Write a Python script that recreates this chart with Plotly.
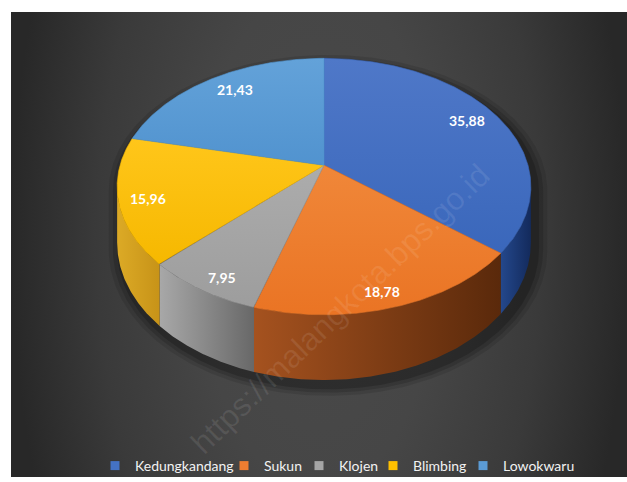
import numpy as np
import plotly.graph_objects as go

# ---------------- data ----------------
categories = ["Kedungkandang", "Sukun", "Klojen", "Blimbing", "Lowokwaru"]
values = [35.88, 18.78, 7.95, 15.96, 21.43]
value_labels = ["35,88", "18,78", "7,95", "15,96", "21,43"]

# ---------------- style ----------------
top_light = ["#4f78c8", "#f08739", "#acacac", "#ffc61a", "#63a2d9"]
top_dark = ["#3a67bb", "#ea7424", "#9d9d9d", "#f6b800", "#5193cf"]
legend_colors = ["#4472c4", "#ed7d31", "#a5a5a5", "#ffc000", "#5b9bd5"]
side_left = ["#24488c", "#a5521f", "#a8a8a8", "#dcaa26", "#3f78b0"]
side_right = ["#132a5c", "#5a290b", "#686868", "#c79318", "#2c5a88"]
legend_widths = [84, 30, 29, 45, 78]
FONT = "Lato, Open Sans, sans-serif"

W, H = 627, 482
PX0, PY0 = 11, 12       # top-left corner of the dark panel
CX, CY = 324.0, 167.0   # pie apex on screen
RX, RY = 204.0, 126.0   # radii of the top face
P = 0.166               # perspective strength
DEPTH = 55.0            # thickness of the disc


def proj(phi, f=1.0, z=0.0):
    phi = np.asarray(phi, dtype=float)
    u = f * np.sin(phi)
    v = f * np.cos(phi)
    d = 1 + P * v
    return CX + RX * u / d, CY + (-RY * v + z) / d


vals = np.array(values, dtype=float)
frac = vals / vals.sum()
ends = np.cumsum(frac) * 2 * np.pi
starts = ends - frac * 2 * np.pi

fig = go.Figure()

# background panel with radial gradient (tall ellipse -> mostly left/right falloff)
fig.add_trace(go.Scatter(
    x=[PX0, W, W, PX0, PX0], y=[-400, -400, 880, 880, -400], mode="lines",
    fill="toself", line=dict(width=0), hoverinfo="skip", showlegend=False,
    fillgradient=dict(type="radial",
                      colorscale=[[0, "#4a4a4a"], [0.4, "#464646"], [0.72, "#3a3a3a"],
                                  [1, "#282828"]]),
))

# soft shadow below the disc
phi_a = np.arccos(-P)
phi_b = 2 * np.pi - phi_a
back = np.linspace(phi_b, phi_a + 2 * np.pi, 200)
front = np.linspace(phi_a, phi_b, 200)
for grow, op in [(1.06, 0.10), (1.04, 0.14), (1.02, 0.18)]:
    tx, ty = proj(back)
    bx, by = proj(front, z=DEPTH)
    sx = np.concatenate([tx, bx, tx[:1]])
    sy = np.concatenate([ty, by, ty[:1]])
    mx, my = sx.mean(), sy.mean()
    sx = mx + (sx - mx) * grow + 4
    sy = my + (sy - my) * grow + 6
    fig.add_trace(go.Scatter(x=sx, y=sy, mode="lines", fill="toself",
                             fillcolor=f"rgba(0,0,0,{op})", line=dict(width=0),
                             hoverinfo="skip", showlegend=False))

# side faces (only the front part of the disc is visible)
for i in range(len(values)):
    lo = max(starts[i], phi_a)
    hi = min(ends[i], phi_b)
    if hi <= lo:
        continue
    ph = np.linspace(lo, hi, 120)
    tx, ty = proj(ph)
    bx, by = proj(ph[::-1], z=DEPTH)
    xs = np.concatenate([tx, bx, tx[:1]])
    ys = np.concatenate([ty, by, ty[:1]])
    fig.add_trace(go.Scatter(
        x=xs, y=ys, mode="lines", fill="toself", line=dict(width=0),
        hoverinfo="skip", showlegend=False,
        fillgradient=dict(type="horizontal", start=float(xs.min()), stop=float(xs.max()),
                          colorscale=[[0, side_left[i]], [1, side_right[i]]]),
    ))

# top faces
for i in range(len(values)):
    ph = np.linspace(starts[i], ends[i], 240)
    rx_, ry_ = proj(ph)
    xs = np.concatenate([[CX], rx_, [CX]])
    ys = np.concatenate([[CY], ry_, [CY]])
    fig.add_trace(go.Scatter(
        x=xs, y=ys, mode="lines", fill="toself",
        line=dict(width=0.6, color=top_dark[i]),
        hoverinfo="skip", showlegend=False,
        fillgradient=dict(type="vertical", start=float(ys.min()), stop=float(ys.max()),
                          colorscale=[[0, top_light[i]], [1, top_dark[i]]]),
    ))

# legend entries
for i, name in enumerate(categories):
    fig.add_trace(go.Scatter(
        x=[None], y=[None], mode="markers", name=name,
        marker=dict(symbol="square", size=9, color=legend_colors[i]),
        legendwidth=legend_widths[i], showlegend=True,
    ))

# value labels placed inside the end of every slice
annotations = []
for i, txt in enumerate(value_labels):
    mid = (starts[i] + ends[i]) / 2
    px, py = proj(mid)
    dx, dy = px - CX, py - CY
    n = np.hypot(dx, dy)
    lx = px - dx / n * 30
    ly = py - dy / n * 17
    annotations.append(dict(
        x=float(lx), y=float(ly), xref="x", yref="y", text=txt, showarrow=False,
        font=dict(family=FONT, size=14, color="white", weight="bold"),
    ))

# faint watermark
annotations.append(dict(
    x=340, y=312, xref="x", yref="y", text="https://malangkota.bps.go.id",
    showarrow=False, textangle=-44,
    font=dict(family="Liberation Sans, Arial, sans-serif", size=32,
              color="rgba(255,255,255,0.09)"),
))

fig.update_layout(
    width=W, height=H,
    margin=dict(l=0, r=0, t=0, b=0),
    paper_bgcolor="white", plot_bgcolor="white",
    xaxis=dict(range=[0, W], visible=False, fixedrange=True),
    yaxis=dict(range=[H, 0], visible=False, fixedrange=True),
    showlegend=True,
    legend=dict(orientation="h", x=95 / W, xanchor="left", y=(H - 471) / H,
                yanchor="middle", bgcolor="rgba(0,0,0,0)",
                font=dict(family=FONT, size=14, color="#f2f2f2"),
                itemwidth=30, tracegroupgap=0),
    annotations=annotations,
    shapes=[
        dict(type="rect", xref="x", yref="y", x0=0, x1=W, y0=0, y1=PY0,
             fillcolor="white", line=dict(width=0), layer="above"),
        dict(type="rect", xref="x", yref="y", x0=0, x1=PX0, y0=0, y1=H,
             fillcolor="white", line=dict(width=0), layer="above"),
    ],
)

fig.write_html("out.html")
